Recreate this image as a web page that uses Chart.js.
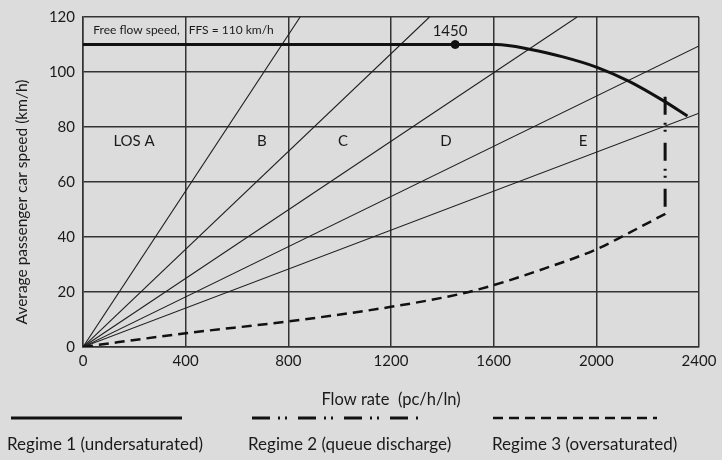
<!DOCTYPE html>
<html>
<head>
<meta charset="utf-8">
<script src="https://cdn.jsdelivr.net/npm/chart.js@4.4.1/dist/chart.umd.min.js"></script>
<style>
  html, body { margin: 0; padding: 0; background: #dcdcdc; }
  #wrap { width: 722px; height: 460px; }
</style>
</head>
<body>
<div id="wrap"><canvas id="speed_flow" width="722" height="460"></canvas></div>
<script>
// speed-flow curves for a basic freeway segment, FFS = 110 km/h
const regime1Flow = [0, 1450, 1610, 1745, 1870, 2000, 2128, 2264, 2355];
const regime1Speed = [110, 110, 110, 108.2, 105.5, 101.8, 96.6, 89.4, 84];

const regime2Flow = [2268, 2268];
const regime2Speed = [91, 48];

const regime3Flow = [0, 400, 800, 1200, 1470, 1600, 1800, 2000, 2113, 2270];
const regime3Speed = [0, 5, 9.3, 14.6, 19.3, 22.5, 28.6, 35.5, 40.8, 48.5];

// LOS boundary rays start at the origin and end where they leave the grid
const rayEndFlow = [846, 1350, 1925, 2400, 2400];
const rayEndSpeed = [120, 120, 120, 109.5, 85];

const losLabels = ["LOS A", "B", "C", "D", "E"];
const losLabelFlow = [199, 697, 1013, 1414, 1948];
const losLabelSpeed = 75;

const capacityFlow = 1450;
const capacitySpeed = 110;

const legendLabels = [
  "Regime 1 (undersaturated)",
  "Regime 2 (queue discharge)",
  "Regime 3 (oversaturated)",
];

const ink = "#111";
const font = "Lato";

function toPoints(xs, ys) {
  return xs.map((v, i) => ({ x: v, y: ys[i] }));
}

const datasets = [
  {
    label: legendLabels[0],
    data: toPoints(regime1Flow, regime1Speed),
    borderColor: ink,
    borderWidth: 3,
    cubicInterpolationMode: "monotone",
    pointRadius: 0,
  },
  {
    label: legendLabels[1],
    data: toPoints(regime2Flow, regime2Speed),
    borderColor: ink,
    borderWidth: 3,
    borderDash: [18, 8, 2, 5, 2, 11],
    pointRadius: 0,
  },
  {
    label: legendLabels[2],
    data: toPoints(regime3Flow, regime3Speed),
    borderColor: ink,
    borderWidth: 2.5,
    borderDash: [10, 6],
    cubicInterpolationMode: "monotone",
    pointRadius: 0,
  },
  {
    label: "capacity point",
    data: [{ x: capacityFlow, y: capacitySpeed }],
    showLine: false,
    pointRadius: 4,
    pointBackgroundColor: ink,
    pointBorderColor: ink,
  },
];

rayEndFlow.forEach((f, i) => {
  datasets.push({
    label: "LOS boundary " + (i + 1),
    data: [{ x: 0, y: 0 }, { x: f, y: rayEndSpeed[i] }],
    borderColor: "#1e1e1e",
    borderWidth: 1.1,
    pointRadius: 0,
  });
});

const extras = {
  id: "extras",
  afterDatasetsDraw(chart) {
    const { ctx, scales } = chart;
    const x = scales.x;
    const y = scales.y;
    ctx.save();
    ctx.fillStyle = "#1a1a1a";
    ctx.textBaseline = "middle";

    ctx.font = "12px " + font;
    ctx.textAlign = "left";
    ctx.fillText("Free flow speed,", x.getPixelForValue(40), y.getPixelForValue(115.4));
    ctx.fillText("FFS = 110 km/h", x.getPixelForValue(412), y.getPixelForValue(115.4));

    ctx.font = "15px " + font;
    ctx.textAlign = "center";
    ctx.fillText(String(capacityFlow), x.getPixelForValue(1430), y.getPixelForValue(114.8));
    losLabels.forEach((t, i) => {
      ctx.fillText(t, x.getPixelForValue(losLabelFlow[i]), y.getPixelForValue(losLabelSpeed));
    });

    // y axis title
    ctx.save();
    ctx.font = "15.5px " + font;
    ctx.translate(22, 202);
    ctx.rotate(-Math.PI / 2);
    ctx.fillText("Average passenger car speed (km/h)", 0, 0);
    ctx.restore();

    // legend under the axis
    const lineX = [[11, 182], [252, 420], [493, 657]];
    const textX = [7, 248, 492];
    ctx.font = "17px " + font;
    ctx.textAlign = "left";
    for (let i = 0; i < 3; i++) {
      const ds = chart.data.datasets[i];
      ctx.save();
      ctx.strokeStyle = ds.borderColor;
      ctx.lineWidth = ds.borderWidth;
      ctx.setLineDash(ds.borderDash || []);
      ctx.beginPath();
      ctx.moveTo(lineX[i][0], 418);
      ctx.lineTo(lineX[i][1], 418);
      ctx.stroke();
      ctx.restore();
      ctx.fillText(ds.label, textX[i], 445);
    }
    ctx.restore();
  },
};

const c1 = document.getElementById("speed_flow").getContext("2d");
new Chart(c1, {
  type: "scatter",
  data: { datasets: datasets },
  options: {
    responsive: false,
    animation: false,
    showLine: true,
    layout: {
      padding: { left: 0, right: 23, top: 12, bottom: 0 },
    },
    plugins: {
      legend: { display: false },
      tooltip: { enabled: false },
    },
    scales: {
      x: {
        type: "linear",
        min: 0,
        max: 2400,
        afterFit: (scale) => { scale.height = 113; },
        ticks: {
          stepSize: 400,
          padding: 5,
          color: "#1a1a1a",
          font: { family: font, size: 15 },
          callback: (v) => String(v),
        },
        grid: { color: "#333", lineWidth: 1.5, drawTicks: false },
        border: { color: "#333", width: 1.5 },
        title: {
          display: true,
          text: "Flow rate  (pc/h/ln)",
          color: "#1a1a1a",
          font: { family: font, size: 16.5 },
          padding: { top: 0, bottom: 50 },
        },
      },
      y: {
        type: "linear",
        min: 0,
        max: 120,
        afterFit: (scale) => { scale.width = 83; },
        ticks: {
          stepSize: 20,
          padding: 8,
          color: "#1a1a1a",
          font: { family: font, size: 15 },
          callback: (v) => String(v),
        },
        grid: { color: "#333", lineWidth: 1.5, drawTicks: false },
        border: { color: "#333", width: 1.5 },
      },
    },
  },
  plugins: [extras],
});
</script>
</body>
</html>
